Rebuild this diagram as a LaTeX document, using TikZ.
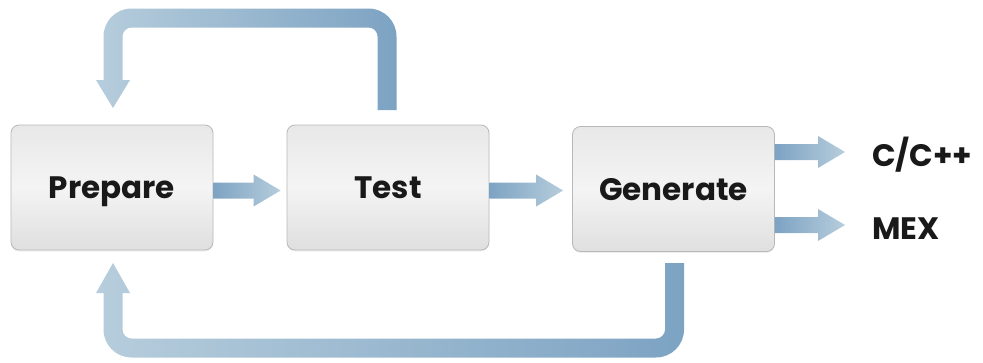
\documentclass[tikz,border=0pt]{standalone}
\usepackage{fontspec}
\setmainfont{Poppins}
\usetikzlibrary{calc,shadows}
\definecolor{arrdark}{HTML}{7DA3C3}
\definecolor{arrlight}{HTML}{B6CDDC}
\definecolor{boxline}{HTML}{B8B8B8}
\definecolor{boxtop}{HTML}{E8E8E9}
\definecolor{boxmid}{HTML}{F4F4F5}
\definecolor{boxbot}{HTML}{DFDFE0}
\tikzset{
  stagebox/.style={draw=boxline, line width=0.8pt, rounded corners=8pt,
    top color=boxtop, bottom color=boxbot, middle color=boxmid,
    minimum width=202pt, minimum height=125pt, inner sep=0pt,
    font=\fontsize{31}{31}\selectfont\bfseries, text=black!90,
    text height=22pt, text depth=0pt,
    drop shadow={shadow xshift=0pt, shadow yshift=-1.5pt, opacity=0.12}},
  outlabel/.style={anchor=west, inner sep=0pt,
    font=\fontsize{31}{31}\selectfont\bfseries, text=black!90,
    text height=22pt, text depth=0pt},
  loopshade/.style={left color=arrlight, right color=arrdark},
}
\newcommand\fatarrow[2]{%
  \shade[left color=arrdark, right color=arrlight] let \p1=#1, \p2=#2 in
    (\x1,{\y1+8pt}) -- ({\x2-27pt},{\y1+8pt}) -- ({\x2-27pt},{\y1+16pt}) -- (\x2,\y1)
    -- ({\x2-27pt},{\y1-16pt}) -- ({\x2-27pt},{\y1-8pt}) -- (\x1,{\y1-8pt}) -- cycle;}
\begin{document}
\begin{tikzpicture}[x=1pt,y=-1pt]
\useasboundingbox (0,0) rectangle (983,362);

\node[stagebox] (prep) at (112,187.5) {Prepare};
\node[stagebox] (test) at (388,187.5) {Test};
\node[stagebox] (gen) at (673.5,189) {Generate};
\node[outlabel] (cpp) at (872,155) {C/C++};
\node[outlabel] (mex) at (872,228) {MEX};

% straight arrows
\fatarrow{($(prep.east)+(0,3)$)}{($(test.west)+(-6,0)$)}
\fatarrow{($(test.east)+(0,3)$)}{($(gen.west)+(-9,0)$)}
\fatarrow{($(gen.east)+(0,-37)$)}{($(cpp.west)+(-27,0)$)}
\fatarrow{($(gen.east)+(0,36)$)}{($(mex.west)+(-27,0)$)}

% top loop: Test -> Prepare
\shade[loopshade]
  (396.5,110) -- (396.5,36.5) .. controls (396.5,21) and (384,8.5) .. (368.5,8.5)
  -- (131.5,8.5) .. controls (116,8.5) and (103.5,21) .. (103.5,36.5)
  -- (103.5,80) -- (96,80) -- (113,108) -- (130,80) -- (122.5,80)
  -- (122.5,36.5) .. controls (122.5,31.5) and (126.5,27.5) .. (131.5,27.5)
  -- (368.5,27.5) .. controls (373.5,27.5) and (377.5,31.5) .. (377.5,36.5)
  -- (377.5,110) -- cycle;

% bottom loop: Generate -> Prepare
\shade[loopshade]
  (684,263) -- (684,329.5) .. controls (684,345) and (671.5,357.5) .. (656,357.5)
  -- (131.5,357.5) .. controls (116,357.5) and (103.5,345) .. (103.5,329.5)
  -- (103.5,293) -- (96,293) -- (113,263) -- (130,293) -- (122.5,293)
  -- (122.5,329.5) .. controls (122.5,334.5) and (126.5,338.5) .. (131.5,338.5)
  -- (656,338.5) .. controls (661,338.5) and (665,334.5) .. (665,329.5)
  -- (665,263) -- cycle;
\end{tikzpicture}
\end{document}
